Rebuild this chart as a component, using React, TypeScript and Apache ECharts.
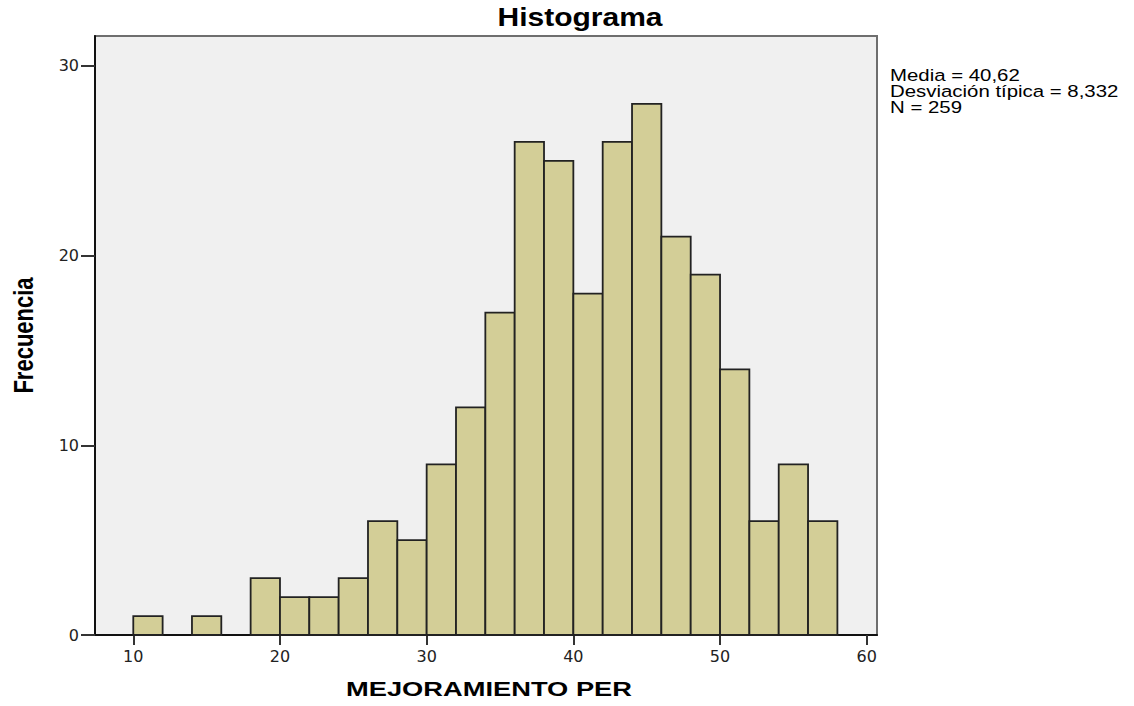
import React, { useEffect, useRef } from "react";
import * as echarts from "echarts";

const binStarts = [10, 12, 14, 16, 18, 20, 22, 24, 26, 28, 30, 32, 34, 36, 38, 40, 42, 44, 46, 48, 50, 52, 54, 56];
const counts = [1, 0, 1, 0, 3, 2, 2, 3, 6, 5, 9, 12, 17, 26, 25, 18, 26, 28, 21, 19, 14, 6, 9, 6];
const binWidth = 2;
const xTicks = [10, 20, 30, 40, 50, 60];
const yTicks = [0, 10, 20, 30];
const statsLines = ["Media = 40,62", "Desviación típica = 8,332", "N = 259"];
const chartTitle = "Histograma";
const xName = "MEJORAMIENTO PER";
const yName = "Frecuencia";

export default function App() {
  const ref = useRef<HTMLDivElement>(null);
  useEffect(() => {
    if (!ref.current) return;
    const chart = echarts.init(ref.current, null, { renderer: "svg" });
    const data = binStarts
      .map((s, i) => [s, s + binWidth, counts[i]])
      .filter((d) => d[2] > 0);
    const sans = "'Liberation Sans', Arial, sans-serif";
    const txt = (
      text: string,
      x: number,
      y: number,
      size: number,
      weight: string,
      align: string,
      extra: any = {}
    ) => ({
      type: "text",
      x,
      y,
      silent: true,
      ...extra,
      style: {
        text,
        fontSize: size,
        fontWeight: weight,
        fontFamily: sans,
        fill: "#000",
        align,
        textAlign: align,
        verticalAlign: "middle",
        textVerticalAlign: "middle",
      },
    });
    chart.setOption({
      animation: false,
      backgroundColor: "#ffffff",
      grid: {
        left: 95,
        right: 257,
        top: 36,
        bottom: 71,
        show: true,
        backgroundColor: "#f0f0f0",
        borderColor: "#6e6e6e",
        borderWidth: 2,
      },
      xAxis: {
        type: "value",
        min: 7.39,
        max: 60.7,
        splitLine: { show: false },
        axisLine: { show: true, onZero: false, lineStyle: { color: "#111", width: 2 } },
        axisTick: { show: true, customValues: xTicks, length: 10, lineStyle: { color: "#333", width: 2 } },
        axisLabel: {
          customValues: xTicks,
          margin: 13,
          fontSize: 16,
          fontFamily: "'DejaVu Sans', sans-serif",
          color: "#222",
        },
      },
      yAxis: {
        type: "value",
        min: 0,
        max: 31.58,
        splitLine: { show: false },
        axisLine: { show: true, lineStyle: { color: "#111", width: 2 } },
        axisTick: { show: true, customValues: yTicks, length: 14, lineStyle: { color: "#333", width: 2 } },
        axisLabel: {
          customValues: yTicks,
          margin: 16,
          fontSize: 16,
          fontFamily: "'DejaVu Sans', sans-serif",
          color: "#222",
        },
      },
      series: [
        {
          type: "custom",
          data,
          renderItem: (params: any, api: any) => {
            const x0 = api.value(0);
            const x1 = api.value(1);
            const y = api.value(2);
            const p0 = api.coord([x0, y]);
            const p1 = api.coord([x1, 0]);
            return {
              type: "rect",
              shape: { x: p0[0], y: p0[1], width: p1[0] - p0[0], height: p1[1] - p0[1] },
              style: { fill: "#d3ce97", stroke: "#222", lineWidth: 1.8 },
            };
          },
        },
      ],
      graphic: [
        txt(chartTitle, 580, 17, 25, "bold", "center", { scaleX: 1.2 }),
        txt(xName, 489, 689, 21, "bold", "center", { scaleX: 1.3 }),
        txt(yName, 23.5, 335.5, 22, "bold", "center", { rotation: Math.PI / 2, scaleY: 1.25 }),
        txt(statsLines[0], 890, 75, 17, "normal", "left", { scaleX: 1.2 }),
        txt(statsLines[1], 890, 91, 17, "normal", "left", { scaleX: 1.2 }),
        txt(statsLines[2], 890, 107, 17, "normal", "left", { scaleX: 1.2 }),
      ],
    });
    return () => chart.dispose();
  }, []);
  return (
    <div
      ref={ref}
      style={{ position: "fixed", left: 0, top: 0, width: 1134, height: 706 }}
    />
  );
}
